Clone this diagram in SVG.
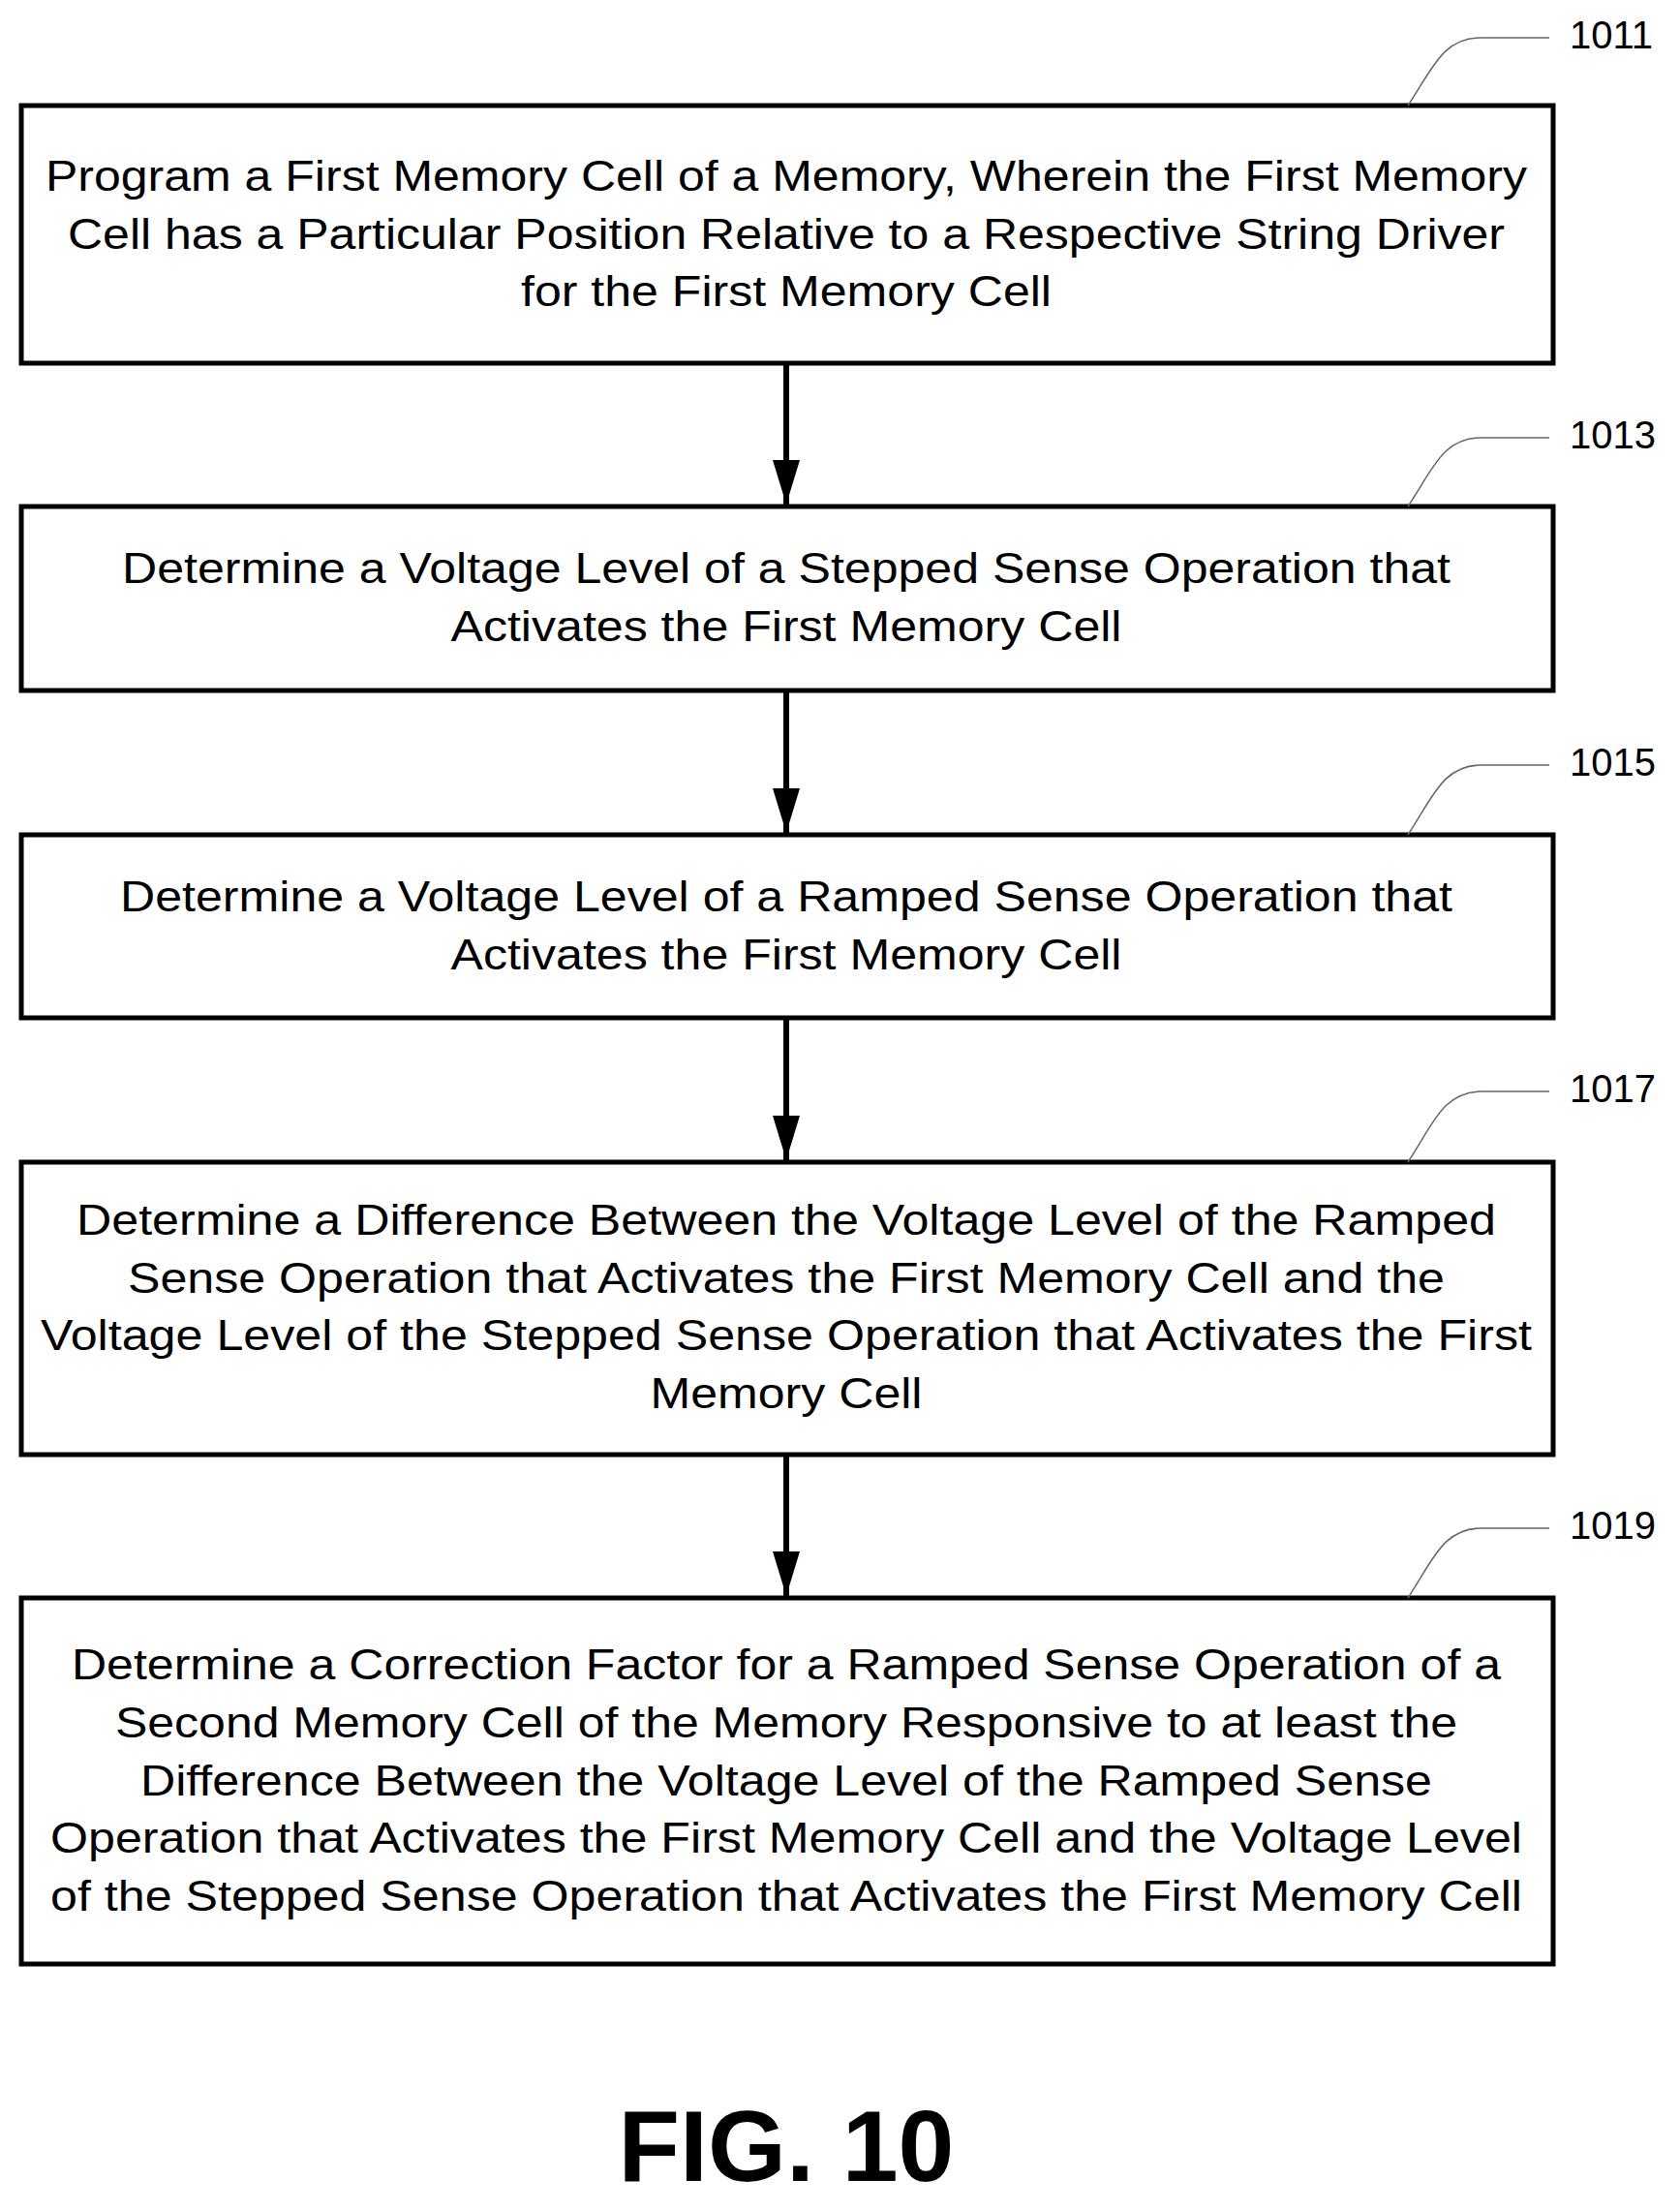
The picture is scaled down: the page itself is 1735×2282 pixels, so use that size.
<svg xmlns="http://www.w3.org/2000/svg" width="1735" height="2282" viewBox="0 0 1735 2282">
<style>
.box{fill:#fff;stroke:#000;stroke-width:5}
.t{font-family:"Liberation Sans",Arial,sans-serif;font-size:45px;text-anchor:middle;fill:#000}
.ref{font-family:"Liberation Sans",Arial,sans-serif;font-size:40px;fill:#000}
.ld{fill:none;stroke:#666;stroke-width:1.5}
.c{stroke:#000;stroke-width:6}
</style>
<defs><marker id="a" markerUnits="userSpaceOnUse" markerWidth="46" markerHeight="28" refX="46" refY="14" viewBox="0 0 46 28" orient="auto"><path d="M0,0 L46,14 L0,28 Z" fill="#000"/></marker></defs>
<rect width="1735" height="2282" fill="#fff"/>
<g id="connectors">
<line class="c" x1="812" y1="375" x2="812" y2="521" marker-end="url(#a)"/>
<line class="c" x1="812" y1="713" x2="812" y2="860" marker-end="url(#a)"/>
<line class="c" x1="812" y1="1051" x2="812" y2="1198" marker-end="url(#a)"/>
<line class="c" x1="812" y1="1502" x2="812" y2="1648" marker-end="url(#a)"/>
</g>
<g id="n1011"><rect class="box" x="22" y="109" width="1582" height="266"/>
<text class="t" x="812" y="197" textLength="1530" lengthAdjust="spacingAndGlyphs">Program a First Memory Cell of a Memory, Wherein the First Memory</text>
<text class="t" x="812" y="257" textLength="1484" lengthAdjust="spacingAndGlyphs">Cell has a Particular Position Relative to a Respective String Driver</text>
<text class="t" x="812" y="316" textLength="548" lengthAdjust="spacingAndGlyphs">for the First Memory Cell</text>
<path class="ld" d="M1454,109 C1480,70 1490,39 1530,39 L1600,39"/><text class="ref" x="1621" y="50">1011</text></g>
<g id="n1013"><rect class="box" x="22" y="523" width="1582" height="190"/>
<text class="t" x="812" y="602" textLength="1372" lengthAdjust="spacingAndGlyphs">Determine a Voltage Level of a Stepped Sense Operation that</text>
<text class="t" x="812" y="662" textLength="693" lengthAdjust="spacingAndGlyphs">Activates the First Memory Cell</text>
<path class="ld" d="M1454,523 C1480,484 1490,452 1530,452 L1600,452"/><text class="ref" x="1621" y="463">1013</text></g>
<g id="n1015"><rect class="box" x="22" y="862" width="1582" height="189"/>
<text class="t" x="812" y="941" textLength="1376" lengthAdjust="spacingAndGlyphs">Determine a Voltage Level of a Ramped Sense Operation that</text>
<text class="t" x="812" y="1001" textLength="693" lengthAdjust="spacingAndGlyphs">Activates the First Memory Cell</text>
<path class="ld" d="M1454,862 C1480,823 1490,790 1530,790 L1600,790"/><text class="ref" x="1621" y="801">1015</text></g>
<g id="n1017"><rect class="box" x="22" y="1200" width="1582" height="302"/>
<text class="t" x="812" y="1275" textLength="1466" lengthAdjust="spacingAndGlyphs">Determine a Difference Between the Voltage Level of the Ramped</text>
<text class="t" x="812" y="1335" textLength="1360" lengthAdjust="spacingAndGlyphs">Sense Operation that Activates the First Memory Cell and the</text>
<text class="t" x="812" y="1394" textLength="1540" lengthAdjust="spacingAndGlyphs">Voltage Level of the Stepped Sense Operation that Activates the First</text>
<text class="t" x="812" y="1454" textLength="281" lengthAdjust="spacingAndGlyphs">Memory Cell</text>
<path class="ld" d="M1454,1200 C1480,1161 1490,1127 1530,1127 L1600,1127"/><text class="ref" x="1621" y="1138">1017</text></g>
<g id="n1019"><rect class="box" x="22" y="1650" width="1582" height="378"/>
<text class="t" x="812" y="1734" textLength="1476" lengthAdjust="spacingAndGlyphs">Determine a Correction Factor for a Ramped Sense Operation of a</text>
<text class="t" x="812" y="1794" textLength="1386" lengthAdjust="spacingAndGlyphs">Second Memory Cell of the Memory Responsive to at least the</text>
<text class="t" x="812" y="1854" textLength="1334" lengthAdjust="spacingAndGlyphs">Difference Between the Voltage Level of the Ramped Sense</text>
<text class="t" x="812" y="1913" textLength="1520" lengthAdjust="spacingAndGlyphs">Operation that Activates the First Memory Cell and the Voltage Level</text>
<text class="t" x="812" y="1973" textLength="1520" lengthAdjust="spacingAndGlyphs">of the Stepped Sense Operation that Activates the First Memory Cell</text>
<path class="ld" d="M1454,1650 C1480,1611 1490,1578 1530,1578 L1600,1578"/><text class="ref" x="1621" y="1589">1019</text></g>
<text x="812" y="2252" font-family="Liberation Sans,Arial,sans-serif" font-size="104" font-weight="bold" text-anchor="middle">FIG. 10</text>
</svg>
